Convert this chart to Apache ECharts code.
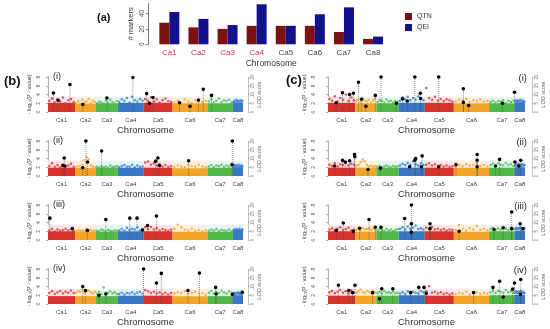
<!DOCTYPE html>
<html><head><meta charset="utf-8">
<script src="https://cdn.jsdelivr.net/npm/echarts@6/dist/echarts.min.js"></script>
<style>html,body{margin:0;padding:0;background:#fff}#c{width:550px;height:329px}</style>
</head><body><div id="c"></div>
<script>
// ---------- data ----------
const barCats = ['Ca1','Ca2','Ca3','Ca4','Ca5','Ca6','Ca7','Ca8'];
const qtn = [28, 22, 20, 24, 24, 24, 16, 7];
const qei = [42, 33, 25, 52, 24, 39, 48, 10];

const chromNames = ['Ca1','Ca2','Ca3','Ca4','Ca5','Ca6','Ca7','Ca8'];
const chromLen = [48, 37, 39, 46, 51, 62, 45, 18];
const yTicksP = [0, 2, 4, 6, 8];
const lodTicks = [0, 5, 10, 15, 20];

// dense band tops per chromosome
const bandB1 = [2.1,1.9,2.0,2.1,2.1,2.0,2.0,2.1];
const bandB2 = [1.9,1.8,1.9,1.9,1.9,1.8,1.9,2.0];
const bandB3 = [2.0,1.9,1.9,2.0,2.0,1.9,1.9,2.2];
const bandB4 = [1.8,1.8,1.8,1.9,1.9,1.8,1.8,2.0];
const bandC1 = [2.1,2.0,2.0,2.1,2.1,2.0,2.0,2.2];
const bandC2 = [1.9,1.9,1.9,1.9,1.9,1.9,1.9,2.0];
const bandC3 = [2.0,1.9,2.0,2.0,2.0,1.9,2.0,2.1];
const bandC4 = [1.9,1.9,1.9,2.0,1.9,1.9,2.0,2.1];

// scattered points above the dense band (per chromosome)
const fringeB1 = [
 [2.6,3.1,2.2,2.9,2.4,3.3,2.0,2.7,3.0,2.3],[2.1,2.5,1.9,2.8,2.2,2.4,3.0,2.0,2.6,2.3],
 [2.0,2.4,2.2,1.9,2.6,2.1,2.8,2.3,2.0,2.5],[2.3,2.9,2.5,3.2,2.2,3.5,2.7,2.4,3.0,2.6],
 [3.0,2.6,3.4,2.4,2.9,2.2,2.7,3.1,2.5,2.3],[2.2,2.6,2.0,2.9,2.4,2.1,2.7,3.0,2.3,2.5],
 [2.4,2.9,2.2,2.6,3.1,2.3,2.7,2.5,2.8,2.2],[2.3,2.6,2.2,2.8,2.4,2.5,2.1,2.7,2.3,2.6]];
const fringeB2 = [
 [2.3,2.9,2.1,2.5,2.0,2.6,2.2,2.4,2.8,2.1],[2.0,2.3,2.1,2.6,3.6,4.3,3.9,2.4,2.2,2.0],
 [2.1,1.9,2.3,2.0,2.2,1.9,2.4,2.0,2.1,2.3],[2.0,2.3,2.5,2.1,2.2,2.6,2.0,2.4,2.1,2.2],
 [3.1,3.3,2.6,2.9,2.4,2.7,2.2,2.5,2.1,2.3],[2.1,2.4,2.2,2.0,2.5,2.3,2.1,2.6,2.2,2.0],
 [2.2,2.5,2.0,2.4,2.3,2.6,2.1,2.4,2.2,2.5],[2.2,2.5,2.1,2.4,2.3,2.6,2.0,2.3,2.4,2.2]];
const fringeB3 = [
 [2.2,2.5,2.0,2.4,2.1,2.3,2.6,2.2,2.5,2.0],[2.0,2.3,2.1,2.2,2.0,2.4,2.1,2.3,2.0,2.2],
 [2.1,2.0,2.4,2.2,1.9,2.3,2.1,2.0,2.2,2.1],[2.2,2.5,2.1,2.8,2.3,2.6,2.4,2.9,2.2,2.5],
 [2.9,2.5,3.0,2.4,2.7,2.2,2.5,2.3,2.1,2.4],[2.6,3.5,2.9,2.4,2.2,2.6,2.1,2.3,2.0,2.2],
 [2.1,2.4,2.2,2.5,2.0,2.3,2.2,2.1,2.4,2.0],[2.2,2.4,2.1,2.5,2.3,2.2,2.6,2.1,2.3,2.4]];
const fringeB4 = [
 [2.5,2.9,2.3,2.7,3.0,2.4,2.8,2.6,3.1,2.5],[2.6,3.0,2.8,3.3,2.5,2.9,3.1,2.7,2.4,2.8],
 [2.4,2.8,2.3,3.8,2.6,2.5,2.9,2.4,2.7,2.3],[2.3,2.6,2.2,2.5,2.4,2.7,2.3,2.6,2.8,2.4],
 [3.2,2.9,2.5,2.8,2.4,2.7,2.3,2.6,2.2,2.5],[2.4,2.7,2.5,2.9,2.3,2.6,2.8,2.4,2.5,2.2],
 [2.6,3.0,2.4,2.8,2.5,3.1,2.7,2.4,2.9,2.6],[2.3,2.6,2.2,2.5,2.4,2.7,2.3,2.5,2.2,2.4]];
const fringeC1 = [
 [3.0,2.6,3.6,2.4,3.2,2.8,4.0,2.5,3.3,2.7],[2.5,2.9,2.3,3.1,2.6,2.4,2.8,2.2,2.7,3.0],
 [2.3,2.7,2.5,2.2,2.9,2.4,2.6,2.1,2.5,2.3],[2.6,3.3,2.9,3.5,2.7,3.2,2.8,3.6,3.0,2.7],
 [5.5,3.2,2.8,3.5,2.6,3.0,2.5,2.9,2.7,2.4],[2.4,2.8,2.6,3.0,2.3,2.7,2.5,2.9,2.4,2.6],
 [2.3,2.6,2.2,2.5,2.4,2.7,2.1,2.5,2.3,2.6],[2.4,2.7,2.3,2.6,2.5,2.8,2.2,2.6,2.5,2.3]];
const fringeC2 = [
 [2.6,2.3,2.9,2.2,2.7,2.5,3.0,2.4,2.8,2.6],[2.3,2.6,3.2,3.8,3.4,2.5,2.2,2.4,2.1,2.3],
 [2.1,2.3,2.0,2.2,2.4,2.1,2.0,2.3,2.1,2.2],[2.4,2.8,2.5,3.0,2.6,3.3,2.7,2.4,2.9,2.5],
 [2.6,2.9,2.4,2.7,2.3,2.5,2.2,2.4,2.1,2.3],[2.2,2.5,2.3,2.7,2.4,2.6,2.9,2.3,2.5,2.2],
 [2.5,2.8,2.3,2.9,2.6,2.4,3.0,2.5,2.7,2.3],[2.4,2.7,2.3,2.8,2.5,2.6,2.2,2.7,2.4,2.5]];
const fringeC3 = [
 [2.4,2.7,2.2,2.6,2.9,2.3,2.5,2.8,2.2,2.4],[2.3,2.6,2.2,2.8,2.4,2.5,2.7,2.3,2.6,2.2],
 [2.2,2.5,2.3,2.1,2.6,2.2,2.4,2.0,2.3,2.5],[2.5,2.9,2.4,3.1,2.6,2.8,3.3,2.5,2.7,2.4],
 [2.8,2.5,3.0,2.4,2.6,2.3,2.5,2.2,2.4,2.3],[2.3,3.4,2.5,2.2,2.7,2.4,3.2,2.3,2.6,2.2],
 [2.5,2.8,2.3,2.7,2.4,2.9,2.6,2.3,2.8,2.5],[2.5,2.8,2.4,2.7,2.6,2.9,2.3,2.6,2.5,2.7]];
const fringeC4 = [
 [2.7,3.0,2.5,2.8,3.2,2.6,2.9,2.4,3.1,2.7],[2.6,2.9,3.3,2.7,2.5,3.0,2.8,2.4,2.9,2.6],
 [2.5,2.8,2.4,3.0,2.6,2.7,2.5,2.9,2.4,2.6],[2.4,2.7,2.3,2.9,2.5,2.8,2.6,2.4,3.0,2.7],
 [2.9,4.1,2.6,2.8,2.4,2.7,2.3,2.5,2.2,2.4],[2.3,2.6,2.4,2.8,2.2,2.5,2.7,2.3,2.6,2.4],
 [2.7,3.1,2.6,3.0,2.8,2.5,3.2,2.7,2.9,2.6],[2.6,2.9,2.5,2.8,2.7,3.0,2.4,2.8,2.6,2.5]];

// significant markers: [chromosome index, fraction along chromosome, -log10(p)]
const peaksB1 = [[0,0.2,4.35],[0,0.37,2.7],[0,0.81,6.3],[1,0.37,1.7],[2,0.5,3.2],[3,0.58,7.9],[4,0.1,4.2],[4,0.2,2.0],[4,0.32,3.3],[5,0.2,2.1],[5,0.5,1.3],[5,0.74,2.7],[5,0.88,5.2],[6,0.16,3.8]];
const peaksB2 = [[0,0.55,2.4],[0,0.6,4.1],[0,0.62,2.3],[1,0.37,1.9],[1,0.52,8],[1,0.6,3.2],[2,0.26,5.7],[4,0.41,3.4],[4,0.49,4.1],[4,0.55,2.4],[5,0.46,3.5],[6,0.97,2.6],[6,0.98,8]];
const peaksB3 = [[0,0.07,5.0],[0,0.9,2.6],[1,0.59,2.2],[2,0.45,4.7],[3,0.46,5.0],[3,0.74,5.0],[3,0.95,2.3],[4,0.13,3.3],[4,0.44,5.5]];
const peaksB4 = [[1,0.37,4.0],[1,0.5,3.1],[2,0.14,2.0],[2,0.45,2.3],[3,0.99,8.0],[4,0.44,4.8],[4,0.61,7.0],[5,0.44,3.1],[5,0.77,7.1],[6,0.32,3.8],[6,0.34,2.3],[6,0.98,2.2],[7,0.93,2.7]];
const peaksC1 = [[0,0.3,2.1],[0,0.53,4.4],[0,0.79,4.0],[0,0.93,4.3],[1,0.15,6.8],[1,0.3,2.9],[1,0.5,1.3],[1,0.95,3.8],[2,0.21,8],[2,0.9,2.0],[3,0.15,3.0],[3,0.33,2.5],[3,0.62,8],[3,0.83,4.3],[3,0.84,3.1],[4,0.48,8],[5,0.27,5.3],[5,0.27,2.2],[5,0.42,1.5],[6,0.52,2.0],[6,0.99,4.5]];
const peaksC2 = [[0,0.24,2.3],[0,0.53,3.6],[0,0.63,3.2],[0,0.79,3.5],[0,0.97,4.9],[0,0.98,4.4],[1,0.6,1.5],[2,0.18,1.8],[3,0.42,2.1],[3,0.62,3.6],[3,0.65,4.0],[3,0.87,2.1],[3,0.9,4.6],[4,0.48,2.1],[5,0.06,2.6],[5,0.66,4.9],[5,0.66,3.6],[5,0.66,2.1],[6,0.25,2.3],[6,0.41,3.8],[7,0.02,3.2],[7,0.4,2.3],[7,0.58,3.6]];
const peaksC3 = [[0,0.3,2.2],[0,0.56,3.9],[0,0.93,2.0],[1,0.2,2.7],[1,0.65,4.7],[1,0.95,2.9],[2,0.21,2.9],[3,0.23,4.9],[3,0.49,8],[3,0.49,3.7],[3,0.49,1.8],[4,0.18,3.7],[4,0.18,2.6],[5,0.15,2.0],[6,0.19,2.4],[6,0.55,2.8],[6,0.88,6.4],[6,0.88,2.6],[7,0.53,3.7],[7,0.8,2.6]];
const peaksC4 = [[0,0.38,4.3],[0,0.76,3.1],[0,0.9,2.6],[0,0.99,4.3],[1,0.82,2.6],[2,0.14,1.2],[2,0.24,3.5],[2,0.74,3.5],[3,0.46,2.6],[3,0.77,3.8],[3,0.97,3.8],[4,0.05,2.4],[5,0.56,2.6],[6,0.15,3.8],[6,0.41,5.2],[6,0.55,1.6],[6,0.92,3.4],[6,0.99,4.8],[7,0.55,2.2],[7,0.58,5.6]];

// ---------- styling ----------
const FONT = '"Liberation Sans", Arial, sans-serif';
const chromColors = ['#d9322c','#f2a526','#52b848','#3a78c6','#d9322c','#f2a526','#52b848','#3a78c6'];
const bgColors = ['#fce3ea','#fdf0e3','#e4f6f2','#e1f2f9','#fce3ea','#fdf0e3','#e4f6f2','#e1f2f9'];
const BG_TOP = 3.5;

const starts = []; let acc = 0;
chromLen.forEach(l => { starts.push(acc); acc += l; });
const total = acc;
const centers = chromLen.map((l, i) => starts[i] + l / 2);
function nameAt(v) {
  let b = 0;
  centers.forEach((c, i) => { if (Math.abs(c - v) < Math.abs(centers[b] - v)) b = i; });
  return chromNames[b];
}

const panels = [
  {col:0,row:0,roman:'(i)',  band:bandB1,fringe:fringeB1,peaks:peaksB1},
  {col:0,row:1,roman:'(ii)', band:bandB2,fringe:fringeB2,peaks:peaksB2},
  {col:0,row:2,roman:'(iii)',band:bandB3,fringe:fringeB3,peaks:peaksB3},
  {col:0,row:3,roman:'(iv)', band:bandB4,fringe:fringeB4,peaks:peaksB4},
  {col:1,row:0,roman:'(i)',  band:bandC1,fringe:fringeC1,peaks:peaksC1},
  {col:1,row:1,roman:'(ii)', band:bandC2,fringe:fringeC2,peaks:peaksC2},
  {col:1,row:2,roman:'(iii)',band:bandC3,fringe:fringeC3,peaks:peaksC3},
  {col:1,row:3,roman:'(iv)', band:bandC4,fringe:fringeC4,peaks:peaksC4}
];
const colGeo = [{left:48,width:195,yOff:5,lodOff:5},{left:328,width:197,yOff:10,lodOff:7}];
const rowTop = [77,141,205,269];
const PH = 35;

const grids = [], xAxes = [], yAxes = [], series = [], graphics = [];

// ---------- (a) bar chart ----------
grids.push({left:154.8, top:3.5, width:232.8, height:40.8});
xAxes.push({type:'category', gridIndex:0, data:barCats,
  axisLine:{show:false}, axisTick:{show:false},
  axisLabel:{fontSize:8, margin:4.5, fontFamily:FONT, color:(v,i)=> i<4 ? '#c92f52' : '#444'},
  name:'Chromosome', nameLocation:'middle', nameGap:15,
  nameTextStyle:{fontSize:8.5, color:'#333', fontFamily:FONT}});
yAxes.push({type:'value', gridIndex:0, min:0, max:53, interval:20, offset:7,
  axisLine:{show:true, lineStyle:{color:'#444', width:0.7}},
  axisTick:{show:true, length:2, lineStyle:{color:'#444', width:0.7}},
  axisLabel:{rotate:90, fontSize:6.5, margin:2, color:'#444', showMaxLabel:false, fontFamily:FONT},
  splitLine:{show:false},
  name:'# markers', nameLocation:'middle', nameGap:13,
  nameTextStyle:{fontSize:7.5, color:'#333', fontFamily:FONT}});
series.push({type:'bar', name:'QTN', xAxisIndex:0, yAxisIndex:0, data:qtn, barWidth:10, barGap:'0%',
  itemStyle:{color:'#7d1212'}});
series.push({type:'bar', name:'QEI', xAxisIndex:0, yAxisIndex:0, data:qei, barWidth:10, barGap:'0%',
  itemStyle:{color:'#12128c'}});

// ---------- Manhattan panels ----------
panels.forEach((p, k0) => {
  const k = k0 + 1;
  const g = colGeo[p.col];
  grids.push({left:g.left, top:rowTop[p.row], width:g.width, height:PH});
  xAxes.push({type:'value', gridIndex:k, min:0, max:total,
    axisLine:{show:false}, axisTick:{show:false}, splitLine:{show:false},
    axisLabel:{customValues:centers, formatter:v => nameAt(v), fontSize:6, color:'#444', margin:5, fontFamily:FONT},
    name:'Chromosome', nameLocation:'middle', nameGap:13,
    nameTextStyle:{fontSize:9.5, color:'#333', fontFamily:FONT}});
  const yl = yAxes.length;
  yAxes.push({type:'value', gridIndex:k, min:0, max:8, interval:2, position:'left', offset:g.yOff,
    axisLine:{show:true, lineStyle:{color:'#777', width:0.6}},
    axisTick:{show:true, length:2, lineStyle:{color:'#777', width:0.6}},
    axisLabel:{rotate:90, fontSize:5, margin:2, color:'#555', fontFamily:FONT},
    splitLine:{show:false},
    name:'- log\u2081\u2080(P - value)', nameLocation:'middle', nameGap:11,
    nameTextStyle:{fontSize:5.5, color:'#444', fontFamily:FONT}});
  yAxes.push({type:'value', gridIndex:k, min:0, max:20, interval:5, position:'right', offset:g.lodOff,
    axisLine:{show:true, lineStyle:{color:'#999', width:0.6, type:'dotted'}},
    axisTick:{show:true, length:2, lineStyle:{color:'#999', width:0.5}},
    axisLabel:{rotate:90, fontSize:4.5, margin:2, color:'#777', fontFamily:FONT},
    splitLine:{show:false},
    name:'LOD score', nameLocation:'middle', nameGap:8, nameRotate:90,
    nameTextStyle:{fontSize:5.5, color:'#666', fontFamily:FONT}});

  const chromData = chromNames.map((n, i) => [i, p.band[i]]);
  // pale background bands
  series.push({type:'custom', xAxisIndex:k, yAxisIndex:yl, z:1, silent:true, clip:true,
    data: chromData,
    renderItem:(params, api) => {
      const i = api.value(0);
      const a = api.coord([starts[i], BG_TOP]);
      const b = api.coord([starts[i] + chromLen[i], 0]);
      return {type:'rect', shape:{x:a[0], y:a[1], width:b[0]-a[0], height:b[1]-a[1]}, style:{fill:bgColors[i]}};
    }});
  // dense band of markers
  series.push({type:'custom', xAxisIndex:k, yAxisIndex:yl, z:2, silent:true, clip:true,
    data: chromData,
    renderItem:(params, api) => {
      const i = api.value(0);
      const a = api.coord([starts[i], api.value(1)]);
      const b = api.coord([starts[i] + chromLen[i], 0]);
      return {type:'rect', shape:{x:a[0], y:a[1], width:b[0]-a[0], height:b[1]-a[1]}, style:{fill:chromColors[i]}};
    }});
  // scattered markers above the band
  const fr = [];
  p.fringe.forEach((arr, i) => {
    arr.forEach((v, j) => { fr.push([starts[i] + (j + 0.5) / arr.length * chromLen[i], v, i]); });
  });
  series.push({type:'scatter', xAxisIndex:k, yAxisIndex:yl, z:3, silent:true, symbolSize:2.5,
    data: fr, itemStyle:{color: prm => chromColors[prm.value[2]], opacity:0.8}});
  // significant markers with dotted drop lines
  const pk = p.peaks.map(d => [starts[d[0]] + d[1] * chromLen[d[0]], d[2]]);
  series.push({type:'custom', xAxisIndex:k, yAxisIndex:yl, z:4, silent:true, clip:false,
    data: pk,
    renderItem:(params, api) => {
      const t = api.coord([api.value(0), api.value(1)]);
      const b = api.coord([api.value(0), 0]);
      return {type:'group', children:[
        {type:'line', shape:{x1:t[0], y1:t[1], x2:b[0], y2:b[1]}, style:{stroke:'#444', lineWidth:0.6, lineDash:[1,1]}},
        {type:'circle', shape:{cx:t[0], cy:t[1], r:1.8}, style:{fill:'#000'}}
      ]};
    }});

  // roman numeral labels
  if (p.col === 0) {
    graphics.push({type:'text', x:53, y:rowTop[p.row], style:{text:p.roman, font:'9px ' + FONT, fill:'#222', textVerticalAlign:'middle'}});
  } else {
    graphics.push({type:'text', x:527, y:rowTop[p.row] + 1, style:{text:p.roman, font:'9.5px ' + FONT, fill:'#222', textAlign:'right', textVerticalAlign:'middle'}});
  }
});

graphics.push({type:'text', x:97, y:18, style:{text:'(a)', font:'bold 11px ' + FONT, fill:'#111', textVerticalAlign:'middle'}});
graphics.push({type:'text', x:4, y:81, style:{text:'(b)', font:'bold 13px ' + FONT, fill:'#111', textVerticalAlign:'middle'}});
graphics.push({type:'text', x:286, y:80, style:{text:'(c)', font:'bold 13px ' + FONT, fill:'#111', textVerticalAlign:'middle'}});

const chart = echarts.init(document.getElementById('c'));
chart.setOption({
  animation:false,
  textStyle:{fontFamily:FONT},
  legend:{data:['QTN','QEI'], orient:'vertical', left:400, top:8, itemWidth:7, itemHeight:7, itemGap:4,
    icon:'rect', textStyle:{fontSize:7, color:'#333', fontFamily:FONT}},
  grid:grids, xAxis:xAxes, yAxis:yAxes, series:series, graphic:graphics
});
</script></body></html>
